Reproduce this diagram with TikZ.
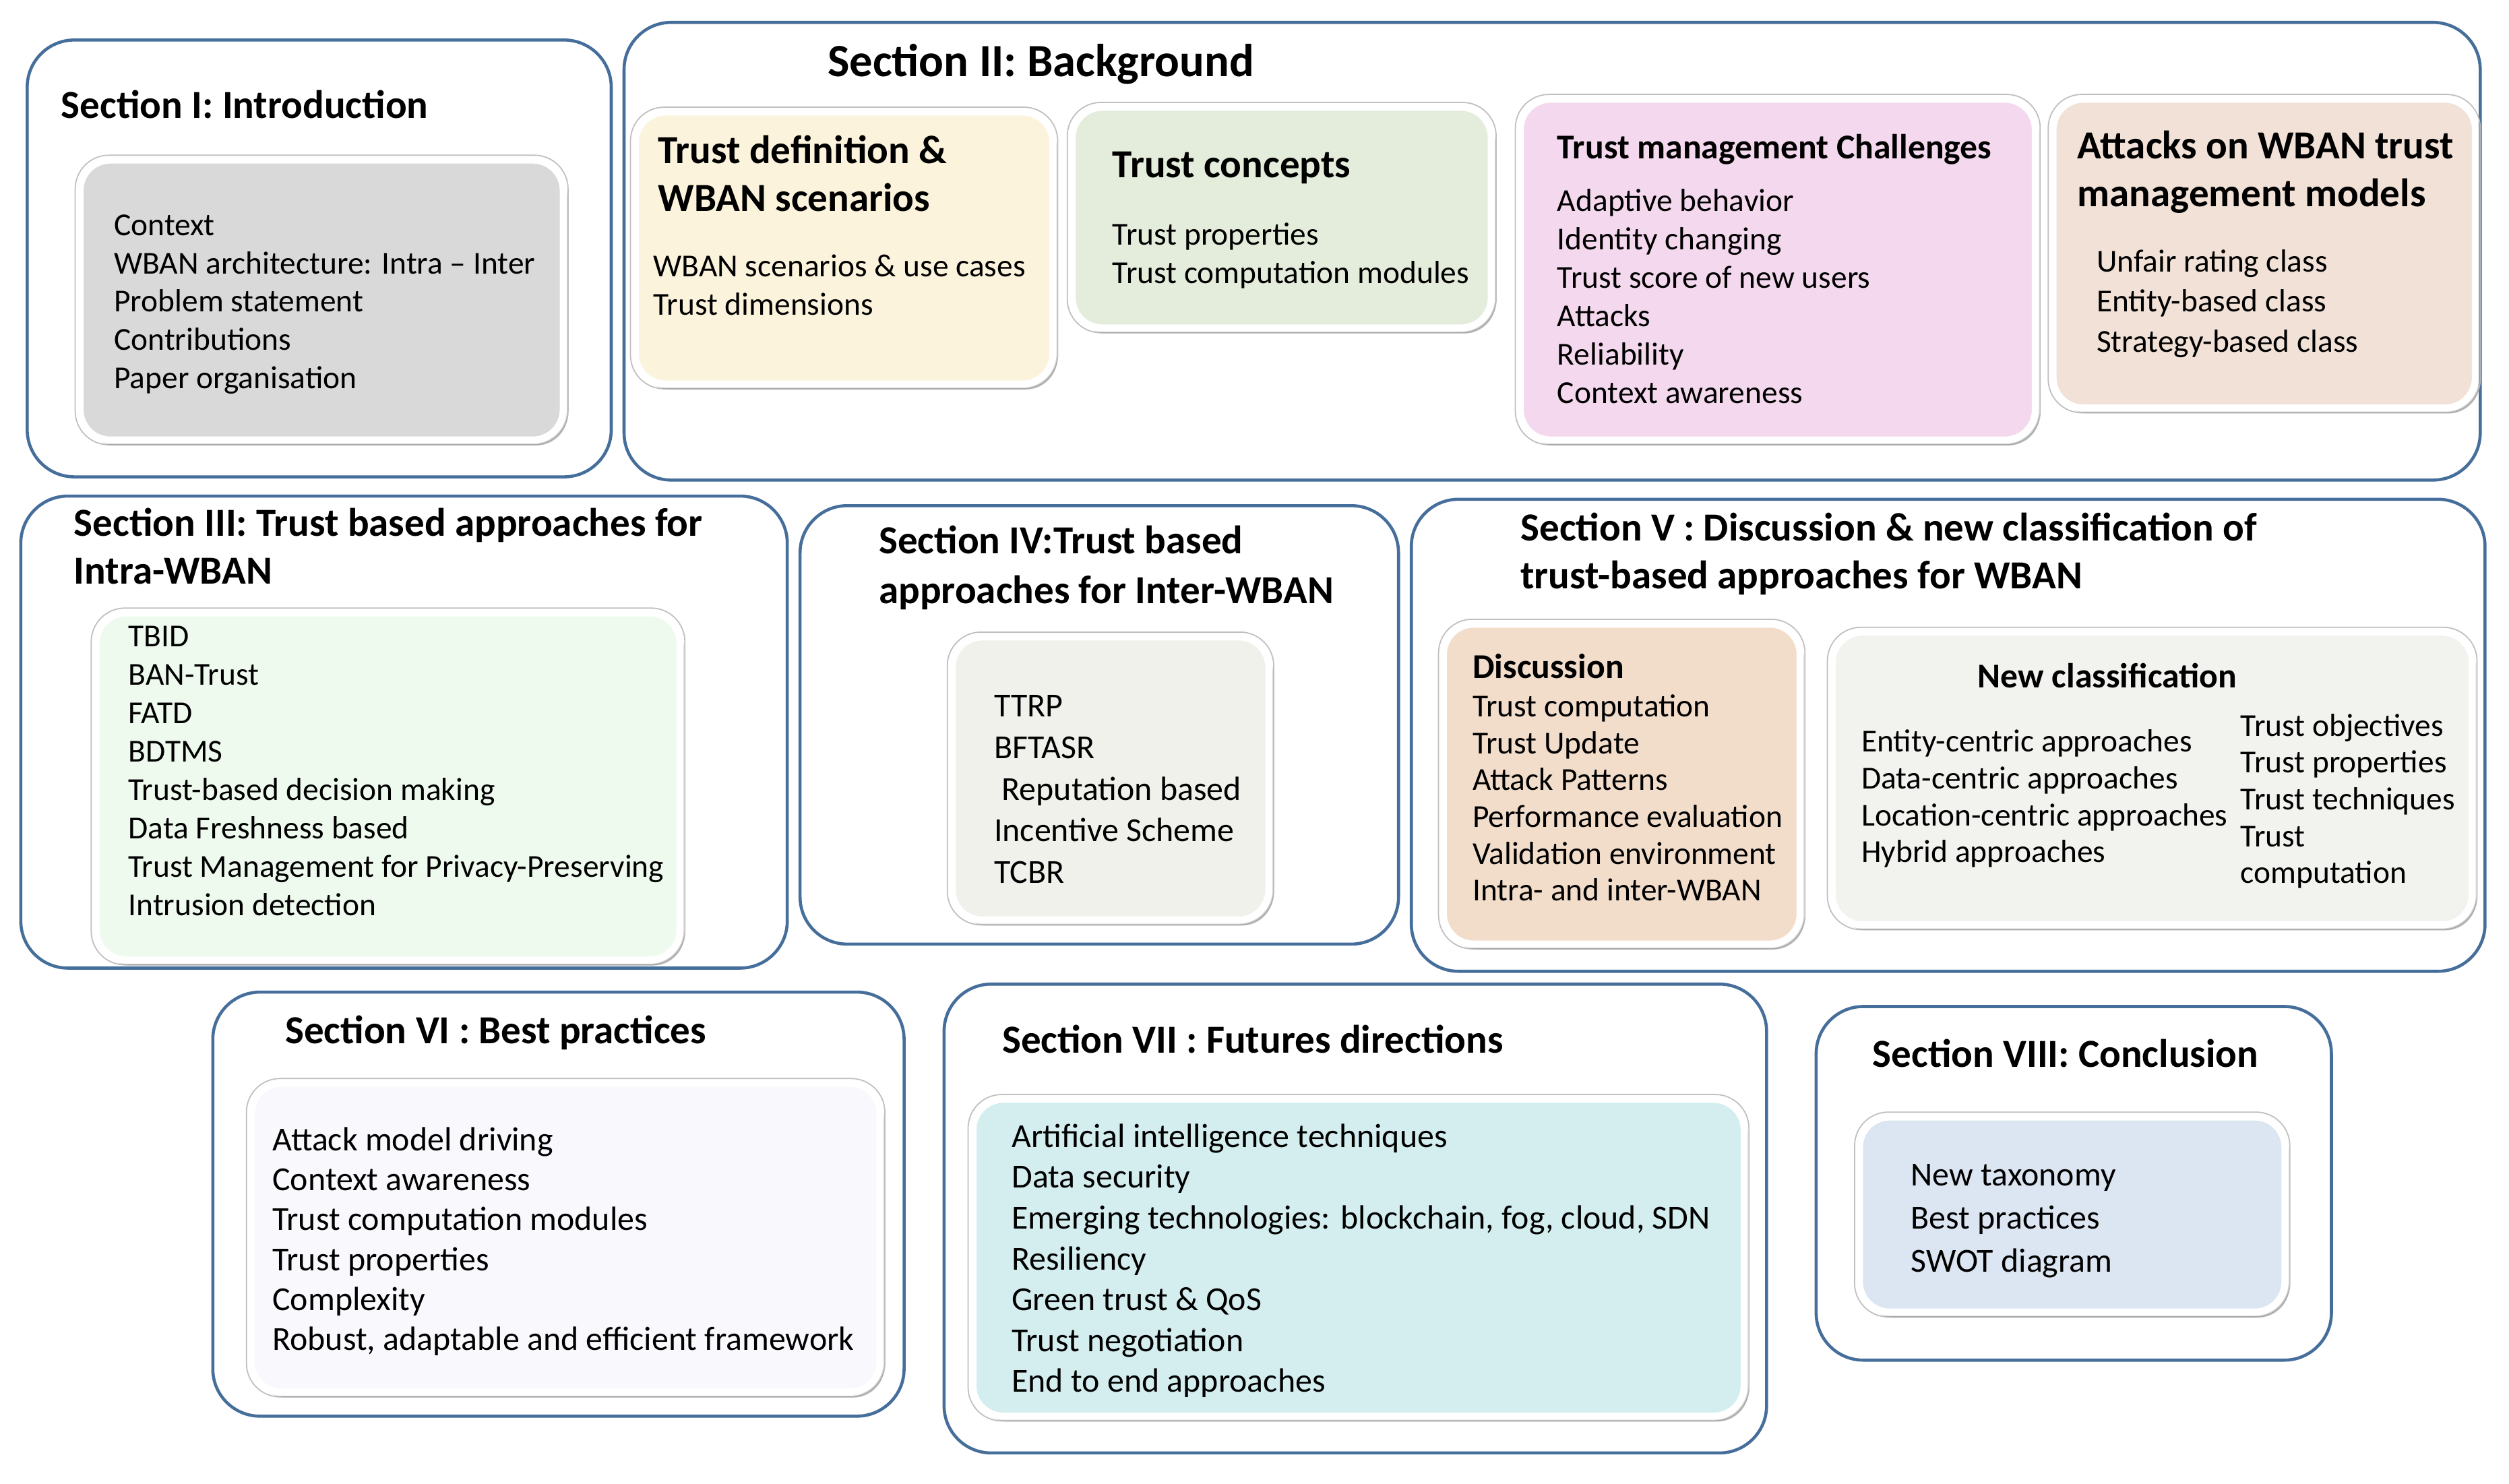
\documentclass[tikz,border=0pt]{standalone}
\usepackage{fontspec}
\setmainfont{Carlito}
\usetikzlibrary{shadows}
\definecolor{secb}{RGB}{70,110,155}
\definecolor{cGray}{RGB}{217,217,217}
\definecolor{cCream}{RGB}{251,243,220}
\definecolor{cGreen}{RGB}{228,237,219}
\definecolor{cPink}{RGB}{244,217,238}
\definecolor{cPeach}{RGB}{242,225,214}
\definecolor{cMint}{RGB}{239,250,239}
\definecolor{cIvory}{RGB}{241,241,236}
\definecolor{cTan}{RGB}{242,221,203}
\definecolor{cLight}{RGB}{242,242,238}
\definecolor{cWhite}{RGB}{249,248,252}
\definecolor{cCyan}{RGB}{212,238,240}
\definecolor{cBlue}{RGB}{220,230,242}
\newcommand\Lines[5]{\foreach \t [count=\i from 0] in {#4}{\node[body,name=#5-\i] at (#1,#2+\i*#3) {\t};}}
\tikzset{
 sec/.style={draw=secb,line width=1.3pt,rounded corners=0.7cm},
 inner/.style={draw=white,line width=3pt,rounded corners=0.45cm,
   drop shadow={opacity=0.35,shadow xshift=0.06cm,shadow yshift=-0.08cm}},
 ring/.style={draw=black!25,line width=0.5pt,rounded corners=0.5cm},
 body/.style={anchor=base west,inner sep=0pt,font=\fontsize{13.5}{16}\selectfont},
 big/.style={body/.append style={font=\fontsize{14.2}{16}\selectfont}},
 ttl/.style={anchor=base west,inner sep=0pt,font=\fontsize{16.8}{19}\selectfont\bfseries},
 sttl/.style={anchor=base west,inner sep=0pt,font=\fontsize{14.7}{17}\selectfont\bfseries},
}
\begin{document}
\begin{tikzpicture}[x=0.02374cm,y=-0.02374cm]
\useasboundingbox[fill=white] (0,0) rectangle (1568,927);
% sections
\draw[sec] (17,25) rectangle (382,298);
\draw[sec] (390,14) rectangle (1550,300);
\draw[sec] (13,310) rectangle (492,605);
\draw[sec] (500,316) rectangle (874,590);
\draw[sec] (882,312) rectangle (1553,607);
\draw[sec] (133,620) rectangle (565,885);
\draw[sec] (590,615) rectangle (1104,908);
\draw[sec] (1135,629) rectangle (1457,850);
% inner boxes
\foreach \a/\b/\c/\d/\col in {50/100/352/275/cGray, 397/70/658/240/cCream, 670/67/932/205/cGreen,
  950/62/1272/275/cPink, 1283/62/1547/255/cPeach, 60/383/425/600/cMint, 595/398/793/575/cIvory,
  902/390/1125/590/cTan, 1145/395/1545/578/cLight, 157/677/550/870/cWhite, 608/687/1090/885/cCyan,
  1162/698/1428/820/cBlue}{
  \draw[ring] (\a-3,\b-3) rectangle (\c+3,\d+3);
  \path[inner,fill=\col] (\a,\b) rectangle (\c,\d);
}
% Section I
\node[ttl,name=t1] at (38,74) {Section I: Introduction};
\Lines{71}{147}{24}{Context,WBAN architecture: Intra -- Inter,Problem statement,Contributions,Paper organisation}{s1}
% Section II
\node[ttl,name=t2,font=\fontsize{19.5}{22}\selectfont\bfseries] at (517,48) {Section II: Background};
\node[ttl,name=t2a] at (411,102) {Trust definition \&};
\node[ttl,name=t2b] at (411,132) {WBAN scenarios};
\Lines{408}{173}{24}{WBAN scenarios \& use cases,Trust dimensions}{s2a}
\node[ttl,name=t2c] at (695,111) {Trust concepts};
\Lines{695}{153}{24}{Trust properties,Trust computation modules}{s2c}
\node[sttl,name=t2d] at (973,99) {Trust management Challenges};
\Lines{973}{132}{24}{Adaptive behavior,Identity changing,Trust score of new users,Attacks,Reliability,Context awareness}{s2d}
\node[ttl,name=t2e] at (1298,99) {Attacks on WBAN trust};
\node[ttl,name=t2f] at (1298,129) {management models};
\Lines{1310}{170}{25}{Unfair rating class,Entity-based class,Strategy-based class}{s2e}
% Section III
\node[ttl,name=t3a] at (46,335) {Section III: Trust based approaches for};
\node[ttl,name=t3b] at (46,365) {Intra-WBAN};
\Lines{80}{404}{24}{TBID,BAN-Trust,FATD,BDTMS,Trust-based decision making,Data Freshness based,Trust Management for Privacy-Preserving,Intrusion detection}{s3}
% Section IV
\node[ttl,name=t4a] at (549,346) {Section IV:Trust based};
\node[ttl,name=t4b] at (549,377) {approaches for Inter-WBAN};
\begin{scope}[big]
\Lines{621}{448}{26}{TTRP,BFTASR,{\ Reputation based},Incentive Scheme,TCBR}{s4}
\end{scope}
% Section V
\node[ttl,name=t5a] at (950,338) {Section V : Discussion \& new classification of};
\node[ttl,name=t5b] at (950,368) {trust-based approaches for WBAN};
\node[sttl,name=t5c] at (920,424) {Discussion};
\Lines{920}{448}{23}{Trust computation,Trust Update,Attack Patterns,Performance evaluation,Validation environment,Intra- and inter-WBAN}{s5a}
\node[sttl,name=t5d,anchor=base] at (1317,430) {New classification};
\Lines{1163}{470}{23}{Entity-centric approaches,Data-centric approaches,Location-centric approaches,Hybrid approaches}{s5b}
\Lines{1400}{460}{23}{Trust objectives,Trust properties,Trust techniques,Trust,computation}{s5c}
% Section VI
\node[ttl,name=t6] at (178,652) {Section VI : Best practices};
\node[ttl,name=t7] at (626,658) {Section VII : Futures directions};
\node[ttl,name=t8] at (1170,667) {Section VIII: Conclusion};
\begin{scope}[big]
\Lines{170}{719}{25}{Attack model driving,Context awareness,Trust computation modules,Trust properties,Complexity,{Robust, adaptable and efficient framework}}{s6}
\Lines{632}{717}{25.5}{Artificial intelligence techniques,Data security,{Emerging technologies: blockchain, fog, cloud, SDN},Resiliency,Green trust \& QoS,Trust negotiation,End to end approaches}{s7}
\Lines{1194}{741}{27}{New taxonomy,Best practices,SWOT diagram}{s8}
\end{scope}
\end{tikzpicture}
\end{document}
